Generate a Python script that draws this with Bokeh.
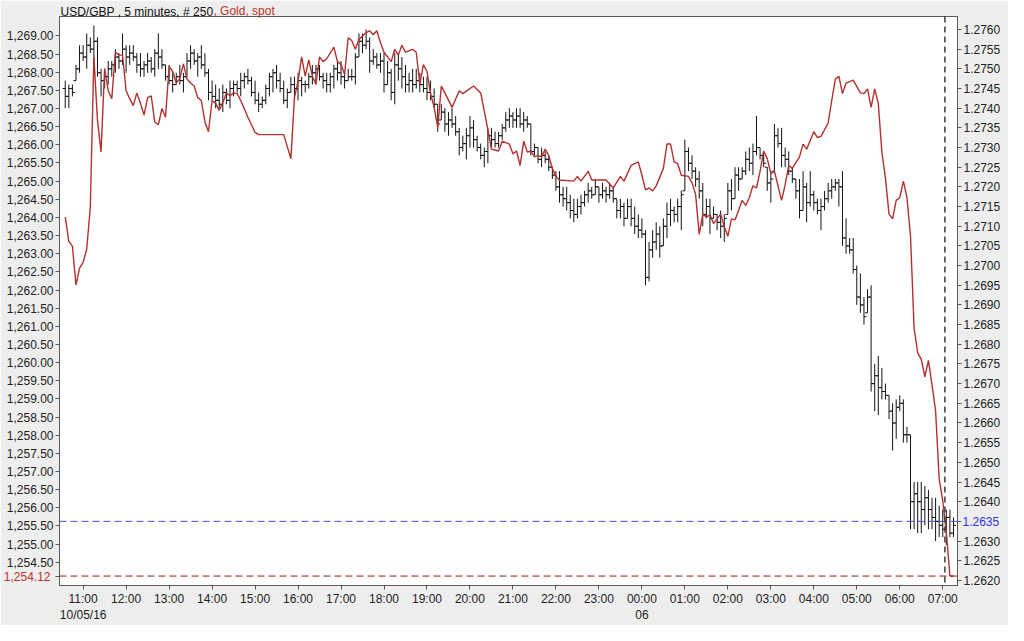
from bokeh.plotting import figure
from bokeh.models import (Range1d, LinearAxis, FixedTicker, CustomJSTickFormatter,
                          Span, ColumnDataSource)
from bokeh.embed import file_html
from bokeh.resources import INLINE

# ---------------- data ----------------
# USD/GBP 5-minute bars, first bar 10:35 on 10/05/16 (hours counted from 10/05 00:00)
first_bar_hour = 10 + 35 / 60
bar_step_hours = 5 / 60

opens = [
    1.2745, 1.2743, 1.2745, 1.2747, 1.2750, 1.2754, 1.2753, 1.2756, 1.2755, 1.2757,
    1.2749, 1.2747, 1.2748, 1.2750, 1.2751, 1.2753, 1.2752, 1.2755, 1.2753, 1.2754,
    1.2753, 1.2751, 1.2750, 1.2751, 1.2752, 1.2750, 1.2754, 1.2753, 1.2751, 1.2748,
    1.2747, 1.2746, 1.2748, 1.2747, 1.2748, 1.2752, 1.2754, 1.2752, 1.2753, 1.2751,
    1.2749, 1.2744, 1.2743, 1.2742, 1.2741, 1.2744, 1.2742, 1.2745, 1.2746, 1.2745,
    1.2747, 1.2748, 1.2747, 1.2744, 1.2742, 1.2741, 1.2742, 1.2745, 1.2748, 1.2749,
    1.2747, 1.2745, 1.2742, 1.2744, 1.2746, 1.2745, 1.2747, 1.2746, 1.2746, 1.2748,
    1.2749, 1.2750, 1.2748, 1.2747, 1.2746, 1.2748, 1.2750, 1.2749, 1.2748, 1.2747,
    1.2748, 1.2748, 1.2753, 1.2757, 1.2756, 1.2757, 1.2752, 1.2753, 1.2751, 1.2752,
    1.2746, 1.2749, 1.2744, 1.2751, 1.2750, 1.2748, 1.2746, 1.2747, 1.2746, 1.2747,
    1.2746, 1.2745, 1.2744, 1.2743, 1.2741, 1.2737, 1.2739, 1.2736, 1.2737, 1.2736,
    1.2734, 1.2730, 1.2731, 1.2733, 1.2735, 1.2732, 1.2730, 1.2728, 1.2729, 1.2733,
    1.2732, 1.2731, 1.2733, 1.2735, 1.2737, 1.2738, 1.2737, 1.2738, 1.2736, 1.2737,
    1.2736, 1.2729, 1.2730, 1.2727, 1.2728, 1.2727, 1.2725, 1.2723, 1.2720, 1.2718,
    1.2717, 1.2716, 1.2714, 1.2713, 1.2715, 1.2716, 1.2718, 1.2719, 1.2718, 1.2720,
    1.2718, 1.2719, 1.2718, 1.2719, 1.2717, 1.2714, 1.2715, 1.2712, 1.2715, 1.2712,
    1.2710, 1.2709, 1.2708, 1.2697, 1.2704, 1.2706, 1.2708, 1.2705, 1.2710, 1.2713,
    1.2714, 1.2713, 1.2715, 1.2719, 1.2729, 1.2726, 1.2724, 1.2722, 1.2719, 1.2713,
    1.2715, 1.2712, 1.2713, 1.2711, 1.2710, 1.2713, 1.2719, 1.2717, 1.2723, 1.2722,
    1.2724, 1.2727, 1.2726, 1.2729, 1.2730, 1.2728, 1.2725, 1.2721, 1.2724, 1.2733,
    1.2731, 1.2728, 1.2727, 1.2724, 1.2722, 1.2719, 1.2714, 1.2720, 1.2716, 1.2718,
    1.2716, 1.2714, 1.2715, 1.2717, 1.2719, 1.2720, 1.2721, 1.2720, 1.2707, 1.2705,
    1.2704, 1.2699, 1.2692, 1.2690, 1.2688, 1.2692, 1.2670, 1.2672, 1.2669, 1.2668,
    1.2667, 1.2663, 1.2660, 1.2664, 1.2665, 1.2657, 1.2657, 1.2640, 1.2642, 1.2640,
    1.2638, 1.2641, 1.2638, 1.2636, 1.2635, 1.2634, 1.2633, 1.2636, 1.2632,
]
highs = [
    1.2747, 1.2746, 1.2746, 1.2751, 1.2756, 1.2756, 1.2759, 1.2758, 1.2761, 1.2758,
    1.2750, 1.2750, 1.2752, 1.2752, 1.2755, 1.2754, 1.2759, 1.2756, 1.2756, 1.2756,
    1.2754, 1.2754, 1.2752, 1.2754, 1.2753, 1.2755, 1.2759, 1.2755, 1.2751, 1.2751,
    1.2749, 1.2749, 1.2751, 1.2749, 1.2754, 1.2756, 1.2755, 1.2754, 1.2756, 1.2754,
    1.2750, 1.2747, 1.2746, 1.2745, 1.2746, 1.2745, 1.2747, 1.2747, 1.2747, 1.2749,
    1.2749, 1.2750, 1.2748, 1.2747, 1.2744, 1.2743, 1.2746, 1.2749, 1.2750, 1.2751,
    1.2749, 1.2747, 1.2745, 1.2748, 1.2748, 1.2749, 1.2748, 1.2747, 1.2749, 1.2751,
    1.2751, 1.2751, 1.2749, 1.2749, 1.2749, 1.2751, 1.2752, 1.2752, 1.2749, 1.2750,
    1.2750, 1.2754, 1.2759, 1.2759, 1.2760, 1.2758, 1.2755, 1.2754, 1.2754, 1.2754,
    1.2752, 1.2750, 1.2754, 1.2754, 1.2753, 1.2751, 1.2749, 1.2750, 1.2750, 1.2749,
    1.2748, 1.2748, 1.2747, 1.2745, 1.2741, 1.2741, 1.2740, 1.2739, 1.2740, 1.2738,
    1.2735, 1.2733, 1.2735, 1.2738, 1.2737, 1.2733, 1.2731, 1.2730, 1.2735, 1.2735,
    1.2734, 1.2734, 1.2736, 1.2739, 1.2740, 1.2739, 1.2740, 1.2740, 1.2739, 1.2738,
    1.2736, 1.2731, 1.2730, 1.2730, 1.2729, 1.2728, 1.2725, 1.2724, 1.2724, 1.2720,
    1.2720, 1.2718, 1.2717, 1.2717, 1.2718, 1.2719, 1.2721, 1.2720, 1.2722, 1.2720,
    1.2721, 1.2720, 1.2721, 1.2720, 1.2717, 1.2717, 1.2716, 1.2717, 1.2717, 1.2715,
    1.2713, 1.2712, 1.2709, 1.2706, 1.2709, 1.2711, 1.2710, 1.2712, 1.2716, 1.2717,
    1.2715, 1.2717, 1.2719, 1.2732, 1.2730, 1.2728, 1.2725, 1.2724, 1.2721, 1.2717,
    1.2717, 1.2715, 1.2713, 1.2714, 1.2713, 1.2721, 1.2722, 1.2725, 1.2725, 1.2725,
    1.2729, 1.2730, 1.2731, 1.2738, 1.2730, 1.2729, 1.2725, 1.2724, 1.2736, 1.2735,
    1.2735, 1.2730, 1.2729, 1.2725, 1.2722, 1.2722, 1.2724, 1.2721, 1.2724, 1.2719,
    1.2717, 1.2717, 1.2719, 1.2721, 1.2722, 1.2722, 1.2722, 1.2724, 1.2712, 1.2707,
    1.2707, 1.2700, 1.2698, 1.2692, 1.2694, 1.2695, 1.2675, 1.2677, 1.2674, 1.2670,
    1.2667, 1.2665, 1.2666, 1.2667, 1.2666, 1.2659, 1.2657, 1.2645, 1.2645, 1.2645,
    1.2644, 1.2643, 1.2641, 1.2641, 1.2639, 1.2638, 1.2638, 1.2638, 1.2636,
]
lows = [
    1.2740, 1.2740, 1.2743, 1.2747, 1.2749, 1.2752, 1.2750, 1.2754, 1.2750, 1.2748,
    1.2743, 1.2745, 1.2746, 1.2748, 1.2749, 1.2750, 1.2751, 1.2749, 1.2751, 1.2752,
    1.2749, 1.2748, 1.2748, 1.2749, 1.2749, 1.2748, 1.2750, 1.2750, 1.2747, 1.2746,
    1.2744, 1.2746, 1.2746, 1.2744, 1.2748, 1.2750, 1.2751, 1.2748, 1.2750, 1.2748,
    1.2742, 1.2742, 1.2740, 1.2740, 1.2739, 1.2741, 1.2740, 1.2743, 1.2744, 1.2743,
    1.2745, 1.2746, 1.2743, 1.2741, 1.2739, 1.2740, 1.2741, 1.2743, 1.2744, 1.2745,
    1.2744, 1.2741, 1.2740, 1.2744, 1.2742, 1.2742, 1.2743, 1.2744, 1.2745, 1.2746,
    1.2746, 1.2747, 1.2745, 1.2744, 1.2744, 1.2745, 1.2747, 1.2746, 1.2745, 1.2747,
    1.2747, 1.2746, 1.2753, 1.2754, 1.2755, 1.2749, 1.2751, 1.2750, 1.2749, 1.2744,
    1.2746, 1.2742, 1.2741, 1.2747, 1.2745, 1.2744, 1.2744, 1.2744, 1.2745, 1.2744,
    1.2744, 1.2742, 1.2742, 1.2740, 1.2734, 1.2737, 1.2734, 1.2733, 1.2735, 1.2733,
    1.2728, 1.2729, 1.2727, 1.2730, 1.2730, 1.2729, 1.2727, 1.2725, 1.2726, 1.2730,
    1.2730, 1.2730, 1.2732, 1.2734, 1.2735, 1.2735, 1.2735, 1.2735, 1.2734, 1.2735,
    1.2728, 1.2728, 1.2726, 1.2725, 1.2726, 1.2724, 1.2722, 1.2719, 1.2716, 1.2715,
    1.2714, 1.2712, 1.2711, 1.2712, 1.2713, 1.2715, 1.2716, 1.2717, 1.2718, 1.2716,
    1.2717, 1.2716, 1.2717, 1.2716, 1.2712, 1.2712, 1.2710, 1.2712, 1.2710, 1.2708,
    1.2707, 1.2707, 1.2695, 1.2696, 1.2702, 1.2704, 1.2702, 1.2705, 1.2707, 1.2710,
    1.2711, 1.2711, 1.2709, 1.2719, 1.2724, 1.2722, 1.2720, 1.2717, 1.2710, 1.2712,
    1.2708, 1.2712, 1.2709, 1.2707, 1.2706, 1.2713, 1.2714, 1.2717, 1.2719, 1.2722,
    1.2723, 1.2724, 1.2723, 1.2728, 1.2727, 1.2725, 1.2719, 1.2716, 1.2724, 1.2730,
    1.2725, 1.2725, 1.2723, 1.2721, 1.2717, 1.2712, 1.2714, 1.2711, 1.2715, 1.2714,
    1.2713, 1.2709, 1.2714, 1.2716, 1.2717, 1.2719, 1.2715, 1.2705, 1.2703, 1.2703,
    1.2698, 1.2690, 1.2688, 1.2685, 1.2688, 1.2668, 1.2663, 1.2662, 1.2666, 1.2666,
    1.2661, 1.2653, 1.2656, 1.2663, 1.2655, 1.2655, 1.2633, 1.2633, 1.2632, 1.2632,
    1.2634, 1.2633, 1.2633, 1.2630, 1.2631, 1.2631, 1.2629, 1.2631, 1.2631,
]
closes = [
    1.2743, 1.2745, 1.2744, 1.2750, 1.2754, 1.2753, 1.2756, 1.2755, 1.2757, 1.2749,
    1.2747, 1.2748, 1.2750, 1.2751, 1.2753, 1.2752, 1.2755, 1.2753, 1.2754, 1.2753,
    1.2751, 1.2750, 1.2751, 1.2752, 1.2750, 1.2754, 1.2753, 1.2751, 1.2748, 1.2747,
    1.2746, 1.2748, 1.2747, 1.2748, 1.2752, 1.2754, 1.2752, 1.2753, 1.2751, 1.2749,
    1.2744, 1.2743, 1.2742, 1.2741, 1.2744, 1.2742, 1.2745, 1.2746, 1.2745, 1.2747,
    1.2748, 1.2747, 1.2744, 1.2742, 1.2741, 1.2742, 1.2745, 1.2748, 1.2749, 1.2747,
    1.2745, 1.2742, 1.2744, 1.2746, 1.2745, 1.2747, 1.2746, 1.2746, 1.2748, 1.2749,
    1.2750, 1.2748, 1.2747, 1.2746, 1.2748, 1.2750, 1.2749, 1.2748, 1.2747, 1.2748,
    1.2748, 1.2753, 1.2757, 1.2756, 1.2757, 1.2752, 1.2753, 1.2751, 1.2752, 1.2746,
    1.2749, 1.2744, 1.2751, 1.2750, 1.2748, 1.2746, 1.2747, 1.2746, 1.2747, 1.2746,
    1.2745, 1.2744, 1.2743, 1.2741, 1.2736, 1.2739, 1.2736, 1.2737, 1.2736, 1.2734,
    1.2730, 1.2731, 1.2733, 1.2735, 1.2732, 1.2730, 1.2728, 1.2729, 1.2733, 1.2732,
    1.2731, 1.2733, 1.2735, 1.2737, 1.2738, 1.2737, 1.2738, 1.2736, 1.2737, 1.2736,
    1.2729, 1.2730, 1.2727, 1.2728, 1.2727, 1.2725, 1.2723, 1.2720, 1.2718, 1.2717,
    1.2716, 1.2714, 1.2713, 1.2715, 1.2716, 1.2718, 1.2719, 1.2718, 1.2720, 1.2718,
    1.2719, 1.2718, 1.2719, 1.2717, 1.2714, 1.2715, 1.2712, 1.2715, 1.2712, 1.2710,
    1.2709, 1.2708, 1.2697, 1.2704, 1.2706, 1.2708, 1.2705, 1.2710, 1.2713, 1.2714,
    1.2713, 1.2715, 1.2718, 1.2729, 1.2726, 1.2724, 1.2722, 1.2719, 1.2713, 1.2715,
    1.2712, 1.2713, 1.2711, 1.2710, 1.2712, 1.2719, 1.2717, 1.2723, 1.2722, 1.2724,
    1.2727, 1.2726, 1.2729, 1.2730, 1.2728, 1.2726, 1.2721, 1.2722, 1.2733, 1.2731,
    1.2728, 1.2727, 1.2724, 1.2722, 1.2719, 1.2714, 1.2720, 1.2716, 1.2718, 1.2716,
    1.2714, 1.2715, 1.2717, 1.2719, 1.2720, 1.2721, 1.2720, 1.2707, 1.2705, 1.2704,
    1.2699, 1.2692, 1.2690, 1.2687, 1.2692, 1.2670, 1.2672, 1.2669, 1.2668, 1.2667,
    1.2663, 1.2660, 1.2664, 1.2665, 1.2657, 1.2657, 1.2640, 1.2642, 1.2640, 1.2638,
    1.2641, 1.2638, 1.2636, 1.2635, 1.2634, 1.2633, 1.2636, 1.2632, 1.2634,
]

# Gold spot (left axis): bar slot (5-minute step from 10:35) and price at the visible vertices
gold_slot = [
    0, 1, 2, 3, 4, 5, 6, 7, 8, 9, 10, 11, 12, 13, 14, 15, 16, 17, 18, 19,
    20, 21, 22, 23, 24, 25, 26, 27, 28, 29, 30, 31, 32, 33, 34, 35, 36, 37, 38, 39,
    40, 41, 42, 43, 44, 45, 46, 47, 48, 49, 51, 53, 54, 61, 63, 64, 65, 66, 67, 68,
    69, 70, 71, 72, 73, 75, 76, 77, 78, 79, 80, 81, 82, 84, 85, 86, 87, 88, 89, 91,
    92, 93, 94, 95, 97, 98, 99, 100, 101, 102, 103, 104, 105, 106, 108, 110, 111, 114, 116, 118,
    119, 121, 122, 124, 125, 126, 127, 128, 129, 130, 131, 132, 133, 134, 135, 136, 137, 138, 142, 143,
    144, 146, 147, 151, 153, 155, 156, 158, 160, 161, 162, 163, 164, 165, 167, 168, 169, 170, 171, 172,
    174, 175, 176, 177, 178, 179, 180, 181, 182, 183, 184, 185, 186, 187, 188, 189, 190, 191, 192, 193,
    194, 195, 196, 197, 198, 200, 201, 202, 203, 205, 206, 207, 209, 210, 211, 213, 214, 215, 216, 217,
    218, 220, 222, 223, 224, 225, 226, 227, 228, 229, 230, 231, 232, 233, 234, 235, 236, 237, 238, 239,
    240, 241, 242, 243, 244, 245, 246, 247, 248,
]
gold_val = [
    1264.01, 1263.34, 1263.21, 1262.14, 1262.60, 1262.76, 1263.13, 1264.28, 1268.42, 1266.68,
    1265.80, 1268.10, 1267.49, 1267.27, 1268.55, 1268.47, 1268.47, 1267.49, 1267.27, 1267.08,
    1267.43, 1267.14, 1266.82, 1267.30, 1267.35, 1266.63, 1266.55, 1267.00, 1266.76, 1268.15,
    1268.02, 1267.70, 1267.83, 1268.23, 1267.81, 1267.70, 1267.62, 1267.30, 1267.22, 1266.63,
    1266.36, 1267.22, 1267.14, 1266.95, 1267.16, 1267.43, 1267.35, 1267.43, 1267.41, 1267.22,
    1266.76, 1266.34, 1266.28, 1266.28, 1265.62, 1267.30, 1267.75, 1268.42, 1267.89, 1268.34,
    1267.89, 1267.67, 1268.42, 1268.29, 1268.37, 1268.69, 1268.29, 1268.21, 1267.94, 1268.95,
    1268.87, 1268.63, 1268.90, 1269.09, 1269.14, 1269.03, 1269.14, 1268.82, 1268.55, 1268.29,
    1268.63, 1268.47, 1268.74, 1268.55, 1268.63, 1268.55, 1267.67, 1268.21, 1268.02, 1267.41,
    1267.03, 1266.47, 1267.62, 1267.43, 1267.03, 1267.49, 1267.41, 1267.62, 1267.43, 1266.42,
    1265.88, 1265.83, 1266.10, 1266.02, 1265.75, 1265.83, 1265.43, 1266.10, 1265.80, 1265.83,
    1265.67, 1265.70, 1265.67, 1265.88, 1265.70, 1265.35, 1265.13, 1265.03, 1265.00, 1265.13,
    1265.00, 1265.27, 1265.03, 1265.03, 1264.81, 1265.13, 1265.00, 1265.43, 1265.53, 1265.16,
    1264.76, 1264.81, 1264.73, 1264.87, 1265.35, 1266.02, 1266.02, 1265.53, 1265.48, 1265.16,
    1265.13, 1264.95, 1264.63, 1263.53, 1264.09, 1264.01, 1264.07, 1263.83, 1263.96, 1264.09,
    1263.74, 1263.48, 1263.96, 1263.93, 1264.20, 1264.47, 1264.33, 1264.55, 1264.87, 1264.81,
    1265.27, 1265.83, 1265.62, 1265.21, 1265.27, 1264.47, 1264.90, 1265.43, 1265.35, 1265.67,
    1266.02, 1265.88, 1266.36, 1266.20, 1266.23, 1266.60, 1267.22, 1267.81, 1267.89, 1267.41,
    1267.70, 1267.78, 1267.43, 1267.41, 1267.54, 1267.03, 1267.54, 1267.14, 1265.80, 1265.08,
    1264.09, 1263.96, 1264.47, 1264.55, 1265.00, 1264.55, 1263.48, 1260.95, 1260.27, 1260.09,
    1259.61, 1260.06, 1259.39, 1258.67, 1256.80, 1256.19, 1255.33, 1254.12, 1254.12,
]
gold_last = 1254.12          # last gold price (red marker)
usd_marker = 1.2635          # blue reference level on USD/GBP axis
cursor_hour = 31.05          # vertical dashed cursor (07:03 on 06)

hour_ticks = [11, 12, 13, 14, 15, 16, 17, 18, 19, 20, 21, 22, 23, 24, 25, 26, 27, 28, 29, 30, 31]
first_date_label = "10/05/16"
next_day_label = "06"
left_ticks = [1254.12, 1254.5, 1255.0, 1255.5, 1256.0, 1256.5, 1257.0, 1257.5, 1258.0, 1258.5,
              1259.0, 1259.5, 1260.0, 1260.5, 1261.0, 1261.5, 1262.0, 1262.5, 1263.0, 1263.5,
              1264.0, 1264.5, 1265.0, 1265.5, 1266.0, 1266.5, 1267.0, 1267.5, 1268.0, 1268.5, 1269.0]
right_ticks = [1.2620, 1.2625, 1.2630, 1.2635, 1.2640, 1.2645, 1.2650, 1.2655, 1.2660, 1.2665,
               1.2670, 1.2675, 1.2680, 1.2685, 1.2690, 1.2695, 1.2700, 1.2705, 1.2710, 1.2715,
               1.2720, 1.2725, 1.2730, 1.2735, 1.2740, 1.2745, 1.2750, 1.2755, 1.2760]

title_black = "USD/GBP , 5 minutes, # 250"
title_red = ", Gold, spot"

# ---------------- styling constants ----------------
FONT = "Liberation Sans"
FS = "12px"
LABEL_COL = "#222222"
AXIS_COL = "#5a5a50"
RED = "#b3302f"
RED_TXT = "#c0302a"
BLUE_TXT = "#3030f0"
X0, X1 = 10.45, 31.343
G0, G1 = 1253.86, 1269.534
U0, U1 = 1.26187, 1.27633
FRAME_W = 898                       # intended frame width in px
HPP = (X1 - X0) / FRAME_W           # hours per pixel
TITLE_BLACK_CENTER_PX = 77.4        # centre of black title text from frame left
TITLE_RED_CENTER_PX = 184.6         # centre of red title text from frame left
LEFT_LABEL_SHIFT = -47              # standoff landing the red label in the left label column
RIGHT_LABEL_SHIFT = -41             # standoff landing the blue label in the right label column
TITLE_STANDOFF = -2
TITLE_RED_STANDOFF = -16

t = [first_bar_hour + i * bar_step_hours for i in range(len(opens))]
half = 0.7 * bar_step_hours
src = ColumnDataSource(dict(
    t=t, tl=[v - half for v in t], tr=[v + half for v in t],
    o=opens, h=highs, l=lows, c=closes))
gsrc = ColumnDataSource(dict(t=[first_bar_hour + s * bar_step_hours for s in gold_slot], g=gold_val))

p = figure(width=1008, height=625, output_backend="svg", toolbar_location=None, title=None,
           x_range=Range1d(X0, X1), y_range=Range1d(G0, G1),
           min_border_left=59, min_border_right=51, min_border_top=13, min_border_bottom=40,
           background_fill_color="white", border_fill_color="#eeeeee",
           outline_line_color=AXIS_COL, outline_line_width=1)
p.extra_y_ranges = {"usd": Range1d(U0, U1)}
p.xgrid.visible = False
p.ygrid.visible = False

raxis = LinearAxis(y_range_name="usd")
p.add_layout(raxis, "right")


def style(ax, color=LABEL_COL, visible_line=True):
    ax.major_label_text_font = FONT
    ax.major_label_text_font_size = FS
    ax.major_label_text_color = color
    ax.minor_tick_line_color = None
    if visible_line:
        ax.major_tick_out = 4
        ax.major_tick_in = 0
        ax.major_label_standoff = 2
        ax.axis_line_color = AXIS_COL
        ax.major_tick_line_color = AXIS_COL
    else:
        ax.major_tick_out = 0
        ax.major_tick_in = 0
        ax.axis_line_color = None
        ax.major_tick_line_color = None


for ax in [p.xaxis[0], p.yaxis[0], raxis]:
    style(ax)

comma_js = r"""
const s = tick.toFixed(2).split(".");
return s[0].replace(/\B(?=(\d{3})+(?!\d))/g, ",") + "." + s[1];
"""

p.yaxis[0].ticker = FixedTicker(ticks=left_ticks)
p.yaxis[0].formatter = CustomJSTickFormatter(
    args=dict(hide=gold_last),
    code="if (Math.abs(tick - hide) < 1e-6) { return ''; }\n" + comma_js)
raxis.ticker = FixedTicker(ticks=right_ticks)
raxis.formatter = CustomJSTickFormatter(args=dict(hide=usd_marker), code="""
if (Math.abs(tick - hide) < 1e-7) { return ""; }
return tick.toFixed(4);
""")
p.xaxis[0].ticker = FixedTicker(ticks=hour_ticks)
p.xaxis[0].formatter = CustomJSTickFormatter(
    args=dict(first_hour=hour_ticks[0], first_date=first_date_label, next_day=next_day_label),
    code="""
const h = Math.round(tick);
const hh = h % 24;
let s = (hh < 10 ? "0" : "") + hh + ":00";
if (h == first_hour) { s = s + "\\n" + first_date; }
if (hh == 0) { s = s + "\\n" + next_day; }
return s;
""")

# red last-gold label, drawn in the same column as the left tick labels
lred = LinearAxis(ticker=FixedTicker(ticks=[gold_last]),
                  formatter=CustomJSTickFormatter(code=comma_js))
style(lred, RED_TXT, visible_line=False)
lred.major_label_standoff = LEFT_LABEL_SHIFT
p.add_layout(lred, "left")

# blue USD/GBP marker label in the same column as the right tick labels
rblue = LinearAxis(y_range_name="usd", ticker=FixedTicker(ticks=[usd_marker]),
                   formatter=CustomJSTickFormatter(code="return tick.toFixed(4);"))
style(rblue, BLUE_TXT, visible_line=False)
rblue.major_label_standoff = RIGHT_LABEL_SHIFT
p.add_layout(rblue, "right")

# two-colour title row above the frame
tblack = LinearAxis(ticker=FixedTicker(ticks=[X0 + TITLE_BLACK_CENTER_PX * HPP]),
                    formatter=CustomJSTickFormatter(args=dict(txt=title_black), code="return txt;"))
style(tblack, "#111111", visible_line=False)
tblack.major_label_standoff = TITLE_STANDOFF
p.add_layout(tblack, "above")
tred = LinearAxis(ticker=FixedTicker(ticks=[X0 + TITLE_RED_CENTER_PX * HPP]),
                  formatter=CustomJSTickFormatter(args=dict(txt=title_red), code="return txt;"))
style(tred, RED_TXT, visible_line=False)
tred.major_label_standoff = TITLE_RED_STANDOFF
p.add_layout(tred, "above")

# OHLC bars on the USD/GBP axis
p.segment(x0="t", y0="l", x1="t", y1="h", source=src, y_range_name="usd",
          line_color="#111111", line_width=1)
p.segment(x0="tl", y0="o", x1="t", y1="o", source=src, y_range_name="usd",
          line_color="#111111", line_width=1)
p.segment(x0="t", y0="c", x1="tr", y1="c", source=src, y_range_name="usd",
          line_color="#111111", line_width=1)

# Gold line on left axis
p.line(x="t", y="g", source=gsrc, line_color=RED, line_width=1.4)

# reference lines
p.add_layout(Span(location=gold_last, dimension="width", line_color="#a01515",
                  line_dash="7 4", line_width=1))
p.add_layout(Span(location=usd_marker, dimension="width", y_range_name="usd",
                  line_color="#4a4af0", line_dash="7 4", line_width=1))
p.add_layout(Span(location=cursor_hour, dimension="height", line_color="#3a3a3a",
                  line_dash="6 4", line_width=1.5))

open("out.html", "w").write(file_html(p, INLINE))
